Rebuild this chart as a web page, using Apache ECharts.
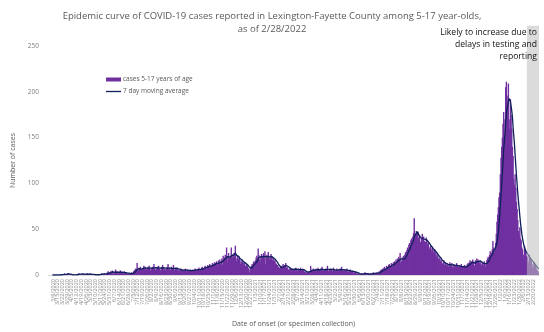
<!DOCTYPE html>
<html>
<head>
<meta charset="utf-8">
<script src="https://cdn.jsdelivr.net/npm/echarts@6/dist/echarts.min.js"></script>
<style>
  html, body { margin: 0; padding: 0; background: #fff; }
  #chart { width: 544px; height: 332px; }
</style>
</head>
<body>
<div id="chart"></div>
<script>
// Daily cases among 5-17 year-olds, by date of onset, one array per month
const mar2020 = [0,0,0,0,0,0,0,0,0,0,0,0,0,0,0,0,0,0,0,1,0,1,1,0,2,1,0,1,1,2,1];
const apr2020 = [0,1,0,0,0,0,1,0,0,0,0,1,1,0,2,1,1,0,0,1,2,1,1,0,1,1,0,2,1,1];
const may2020 = [1,2,0,1,1,0,0,0,1,0,0,0,0,0,1,0,1,1,2,0,1,1,2,1,0,1,2,3,4,2,3];
const jun2020 = [2,4,3,5,3,1,2,3,6,2,4,3,2,1,3,5,2,4,3,1,2,4,3,2,3,1,2,1,2,1];
const jul2020 = [2,1,3,1,2,4,5,6,7,5,13,4,6,8,7,9,6,5,7,8,10,7,9,6,6,8,9,7,10,8,5];
const aug2020 = [6,8,9,7,12,8,6,5,7,9,8,10,7,6,5,8,9,11,7,8,6,5,8,7,9,12,6,8,5,6,9];
const sep2020 = [7,8,11,6,5,7,6,8,7,6,4,5,6,7,5,6,4,5,6,5,7,4,5,6,5,3,5,6,4,5];
const oct2020 = [6,5,4,6,7,5,6,4,6,7,8,5,6,7,8,9,6,7,8,10,9,7,8,11,9,10,12,9,8,11,13];
const nov2020 = [12,10,14,13,11,15,9,13,16,14,17,12,15,18,11,21,17,19,22,18,30,14,20,24,19,12,21,30,23,19];
const dec2020 = [22,24,20,32,18,15,21,19,17,20,16,12,14,17,15,13,11,14,10,9,12,10,8,7,3,6,9,10,12,11,14];
const jan2021 = [15,8,16,19,21,18,29,22,17,14,20,23,19,21,24,18,26,12,20,22,19,25,21,17,18,23,20,16,19,17,15];
const feb2021 = [16,13,12,10,11,9,5,8,9,7,10,8,12,9,11,10,13,8,9,7,6,5,7,8,6,4,7,6];
const mar2021 = [6,7,5,8,6,4,5,7,6,5,8,6,5,7,6,4,3,4,2,3,2,3,4,2,3,10,5,6,4,7,5];
const apr2021 = [6,5,7,4,6,8,5,6,4,7,5,9,6,5,4,6,7,5,6,10,5,4,6,5,7,6,4,5,8,6];
const may2021 = [5,4,6,7,5,6,4,5,7,6,9,5,4,5,6,4,5,6,7,4,3,5,4,6,3,4,5,3,2,4,3];
const jun2021 = [3,2,1,2,1,0,2,1,1,2,0,1,2,1,3,1,0,1,2,1,1,0,2,1,2,1,3,2,1,2];
const jul2021 = [2,1,3,2,1,4,3,5,6,4,7,5,8,9,6,7,10,9,8,11,12,7,10,13,12,9,14,11,15,13,17];
const aug2021 = [14,18,16,20,17,24,13,15,19,16,21,18,22,25,19,27,30,28,33,35,31,38,40,36,42,46,62,41,44,48,43];
const sep2021 = [47,41,38,44,36,35,40,45,39,42,37,34,36,41,38,33,35,30,28,32,29,26,31,27,24,28,22,25,20,23];
const oct2021 = [21,18,16,19,15,17,14,12,13,16,11,14,12,10,13,11,9,12,14,10,11,13,9,8,12,10,11,9,13,10,8];
const nov2021 = [9,11,8,10,12,7,9,10,8,11,9,7,10,12,13,11,14,16,12,15,13,17,14,11,9,16,15,18,14,17];
const dec2021 = [15,13,16,12,10,14,13,11,15,12,9,13,16,18,20,17,22,26,19,24,28,37,30,26,22,35,45,58,66,74,85];
const jan2022 = [90,110,128,140,150,165,178,150,170,205,211,196,188,209,170,160,192,175,160,140,130,105,98,110,95,80,72,60,48,44,52];
const feb2022 = [40,38,30,28,22,18,32,27,25,21,20,15,12,22,19,17,15,12,9,8,14,11,10,8,6,5,4,2];

const firstDay = { year: 2020, month: 3, day: 1 };
const pendingFrom = '2/11/2022';      // recent counts still incomplete
const yTicks = [0, 50, 100, 150, 200, 250];

const cases = [].concat(
  mar2020, apr2020, may2020, jun2020, jul2020, aug2020, sep2020, oct2020, nov2020, dec2020,
  jan2021, feb2021, mar2021, apr2021, may2021, jun2021, jul2021, aug2021, sep2021, oct2021,
  nov2021, dec2021, jan2022, feb2022
);

// category labels M/D/YYYY, one per day
const dates = [];
for (let i = 0; i < cases.length; i++) {
  const d = new Date(Date.UTC(firstDay.year, firstDay.month - 1, firstDay.day + i));
  dates.push((d.getUTCMonth() + 1) + '/' + d.getUTCDate() + '/' + d.getUTCFullYear());
}

// trailing 7-day moving average
const movingAvg = cases.map((v, i) => {
  if (i < 6) return null;
  let s = 0;
  for (let k = i - 6; k <= i; k++) s += cases[k];
  return +(s / 7).toFixed(2);
});

const chart = echarts.init(document.getElementById('chart'), null, { renderer: 'canvas' });
const font = "'Open Sans', 'Noto Sans', sans-serif";
const barColor = '#7030a0';
const lineColor = '#0e1f5b';

chart.setOption({
  animation: false,
  backgroundColor: '#ffffff',
  textStyle: { fontFamily: font },
  title: {
    text: 'Epidemic curve of COVID-19 cases reported in Lexington-Fayette County among 5-17 year-olds,\nas of 2/28/2022',
    left: 'center',
    top: 5,
    textStyle: { fontSize: 9.5, fontWeight: 'normal', color: '#595959', lineHeight: 13, fontFamily: font }
  },
  legend: [
    {
      orient: 'vertical',
      left: 106,
      top: 76,
      padding: 0,
      itemWidth: 15,
      itemHeight: 4,
      textStyle: { fontSize: 6.5, color: '#595959', padding: [0, 0, 0, -3] },
      data: [{ name: 'cases 5-17 years of age', icon: 'rect' }]
    },
    {
      orient: 'vertical',
      left: 106,
      top: 88,
      padding: 0,
      itemWidth: 15,
      itemHeight: 1.3,
      textStyle: { fontSize: 6.5, color: '#595959', padding: [0, 0, 0, -3] },
      data: [{ name: '7 day moving average', icon: 'rect' }]
    }
  ],
  grid: { left: 48, right: 5, top: 46, bottom: 52, containLabel: false },
  xAxis: {
    type: 'category',
    data: dates,
    boundaryGap: true,
    name: 'Date of onset (or specimen collection)',
    nameLocation: 'middle',
    nameGap: 45,
    nameTextStyle: { fontSize: 7, color: '#595959' },
    axisLine: { lineStyle: { color: '#d9d9d9', width: 1 } },
    axisTick: { show: false },
    axisLabel: { rotate: 90, interval: 6, fontSize: 5.5, color: '#8c8c8c', margin: 4 },
    splitLine: { show: false }
  },
  yAxis: {
    type: 'value',
    min: yTicks[0],
    max: yTicks[yTicks.length - 1],
    interval: yTicks[1] - yTicks[0],
    name: 'Number of cases',
    nameLocation: 'middle',
    nameRotate: 90,
    nameGap: 32,
    nameTextStyle: { fontSize: 7, color: '#595959' },
    axisLine: { show: false },
    axisTick: { show: false },
    axisLabel: { fontSize: 6.5, color: '#7f7f7f', margin: 9 },
    splitLine: { show: false }
  },
  series: [
    {
      name: 'cases 5-17 years of age',
      type: 'bar',
      data: cases,
      barWidth: 1.4,
      itemStyle: { color: barColor },
      emphasis: { disabled: true }
    },
    {
      name: '7 day moving average',
      type: 'line',
      data: movingAvg,
      symbol: 'none',
      connectNulls: false,
      lineStyle: { color: lineColor, width: 1.3 },
      itemStyle: { color: lineColor },
      emphasis: { disabled: true }
    }
  ]
});

// shaded band over the most recent, still-incomplete days, plus its note
function drawPending() {
  const i0 = dates.indexOf(pendingFrom);
  const step = chart.convertToPixel({ xAxisIndex: 0 }, dates[1]) - chart.convertToPixel({ xAxisIndex: 0 }, dates[0]);
  const x0 = chart.convertToPixel({ xAxisIndex: 0 }, dates[i0]) - step / 2;
  const x1 = chart.convertToPixel({ xAxisIndex: 0 }, dates[dates.length - 1]) + step / 2;
  const yBase = chart.convertToPixel({ yAxisIndex: 0 }, 0);
  const yTop = chart.convertToPixel({ yAxisIndex: 0 }, 272);
  chart.setOption({
    graphic: [
      {
        type: 'rect',
        z: 50,
        shape: { x: x0, y: yTop, width: x1 - x0, height: yBase - yTop },
        style: { fill: 'rgba(190,190,192,0.55)' },
        silent: true
      },
      {
        type: 'text',
        z: 60,
        x: x1 - 2,
        y: 27,
        style: {
          text: 'Likely to increase due to\ndelays in testing and\nreporting',
          align: 'right',
          verticalAlign: 'top',
          fontSize: 8.6,
          lineHeight: 12,
          fill: '#111111',
          fontFamily: font
        },
        silent: true
      }
    ]
  });
}
drawPending();
</script>
</body>
</html>
